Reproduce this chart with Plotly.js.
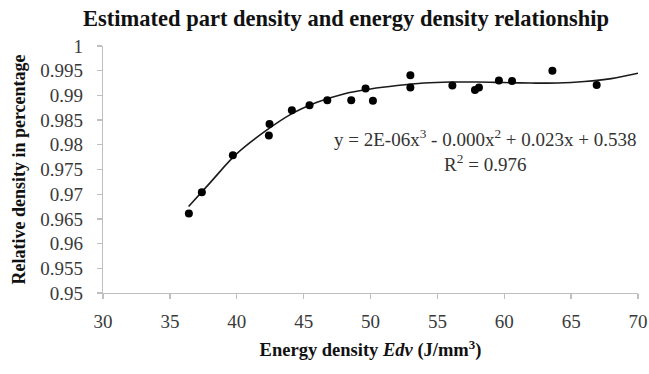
<!DOCTYPE html>
<html>
<head>
<meta charset="utf-8">
<script src="https://cdn.plot.ly/plotly-3.0.1.min.js"></script>
<style>
  html, body { margin: 0; padding: 0; background: #fff; }
  #chart { width: 649px; height: 374px; }
</style>
</head>
<body>
<div id="chart"></div>
<script>
// Energy density Edv (J/mm^3) of each sample
const energyDensity = [36.42, 37.39, 39.71, 42.40, 42.45, 44.12, 45.44, 46.77, 48.56, 49.63, 50.18, 52.98, 52.98, 56.12, 57.81, 58.11, 59.60, 60.58, 63.60, 66.91];
// Relative density of each sample
const relativeDensity = [0.9661, 0.9704, 0.9779, 0.9819, 0.9842, 0.9870, 0.9880, 0.9890, 0.9890, 0.9914, 0.9889, 0.9941, 0.9916, 0.9920, 0.9911, 0.9916, 0.9930, 0.9929, 0.9950, 0.9921];

// Polynomial trendline
const trendX = [36.4, 38, 40, 42, 44, 46, 48, 50, 52, 54, 56, 58, 60, 62, 64, 66, 68, 70];
const trendY = [0.9675, 0.9723, 0.9782, 0.9825, 0.9861, 0.9886, 0.9903, 0.9913, 0.9920, 0.9925, 0.9927, 0.9927, 0.9926, 0.9925, 0.9925, 0.9928, 0.9934, 0.9945];

const xTickVals = [30, 35, 40, 45, 50, 55, 60, 65, 70];
const xTickText = ["30", "35", "40", "45", "50", "55", "60", "65", "70"];
const yTickVals = [0.95, 0.955, 0.96, 0.965, 0.97, 0.975, 0.98, 0.985, 0.99, 0.995, 1];
const yTickText = ["0.95", "0.955", "0.96", "0.965", "0.97", "0.975", "0.98", "0.985", "0.99", "0.995", "1"];

const titleText = "Estimated part density and energy density relationship";
const xTitle = "Energy density <i>Edv</i> (J/mm<sup>3</sup>)";
const yTitle = "Relative density in percentage";
const equationText = "y = 2E-06x<sup>3</sup> - 0.000x<sup>2</sup> + 0.023x + 0.538";
const r2Text = "R<sup>2</sup> = 0.976";

const serif = "Liberation Serif, Times New Roman, serif";
const W = 649, H = 374;
const M = { l: 103, r: 11, t: 46, b: 81 };

function px2paperX(px) { return (px - M.l) / (W - M.l - M.r); }
function px2paperY(py) { return 1 - (py - M.t) / (H - M.t - M.b); }

const traces = [
  {
    x: trendX, y: trendY, type: "scatter", mode: "lines",
    line: { color: "#1a1a1a", width: 1.6, shape: "spline", smoothing: 1.0 },
    hoverinfo: "skip", showlegend: false
  },
  {
    x: energyDensity, y: relativeDensity, type: "scatter", mode: "markers",
    marker: { color: "#000", size: 8 },
    showlegend: false
  }
];

const axisCommon = {
  showgrid: false, zeroline: false, showline: true,
  linecolor: "#bfbfbf", linewidth: 1.3,
  ticks: "outside", ticklen: 5, tickcolor: "#bfbfbf", tickwidth: 1.3,
  tickfont: { family: serif, size: 19, color: "#3a3a3a" },
  tickmode: "array"
};

const layout = {
  width: W, height: H,
  paper_bgcolor: "#fff", plot_bgcolor: "#fff",
  margin: M,
  title: {
    text: titleText,
    font: { family: serif, size: 22.5, color: "#111", weight: "bold" },
    x: 346 / W, xanchor: "center", y: 1 - 18 / H, yanchor: "middle"
  },
  xaxis: Object.assign({}, axisCommon, {
    range: [30, 70], tickvals: xTickVals, ticktext: xTickText,
    ticklabelstandoff: 6,
    title: { text: xTitle, font: { family: serif, size: 18.5, color: "#111", weight: "bold" }, standoff: 12 }
  }),
  yaxis: Object.assign({}, axisCommon, {
    range: [0.95, 1], tickvals: yTickVals, ticktext: yTickText,
    ticklabelstandoff: 10,
    title: { text: yTitle, font: { family: serif, size: 18, color: "#111", weight: "bold" }, standoff: 10 }
  }),
  annotations: [
    { text: equationText + "<br>" + r2Text, xref: "paper", yref: "paper", x: px2paperX(485), y: px2paperY(150),
      xanchor: "center", yanchor: "middle", align: "center", showarrow: false,
      font: { family: serif, size: 19, color: "#333" } }
  ]
};

Plotly.newPlot("chart", traces, layout, { displayModeBar: false, staticPlot: true });
</script>
</body>
</html>
